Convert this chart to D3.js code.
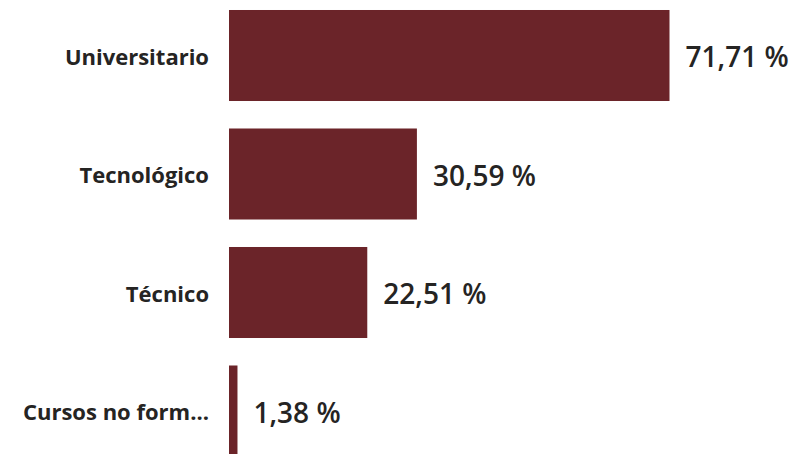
<!DOCTYPE html>
<html>
<head>
<meta charset="utf-8">
<script src="https://cdn.jsdelivr.net/npm/d3@7"></script>
<style>
  body { margin: 0; background: #fff; }
  svg { display: block; }
</style>
</head>
<body>
<div id="chart"></div>
<script>
// data
var categories = ["Universitario", "Tecnológico", "Técnico", "Cursos no formales"];
var values = [71.71, 30.59, 22.51, 1.38];

var width = 807,
    height = 454;

var svg = d3.select("#chart")
    .append("svg")
    .attr("width", width)
    .attr("height", height);

// x: value -> pixels, bars start at 229
var x = d3.scaleLinear()
    .domain([0, 71.71])
    .range([229, 669.5]);

// y: band per category, step ~118.5
var y = d3.scaleBand()
    .domain(categories)
    .range([-3.75, 470.25])
    .paddingInner(0.232)
    .paddingOuter(0.116);

var rows = categories.map(function(c, i) { return {cat: c, val: values[i]}; });

svg.selectAll("rect.bar")
    .data(rows)
    .enter()
    .append("rect")
    .attr("class", "bar")
    .attr("x", x(0))
    .attr("y", function(d) { return y(d.cat); })
    .attr("width", function(d) { return x(d.val) - x(0); })
    .attr("height", y.bandwidth())
    .style("fill", "#6b2429");

// category labels, cut with ellipsis if too long
var maxLabel = 192;
svg.selectAll("text.cat")
    .data(rows)
    .enter()
    .append("text")
    .attr("class", "cat")
    .attr("x", 209)
    .attr("y", function(d) { return y(d.cat) + y.bandwidth() / 2; })
    .attr("dy", "0.42em")
    .attr("text-anchor", "end")
    .style("font-family", "'Open Sans', sans-serif")
    .style("font-weight", 700)
    .style("font-size", "22px")
    .style("fill", "#252423")
    .text(function(d) { return d.cat; })
    .each(function(d) {
        var t = d3.select(this);
        var s = d.cat;
        if (this.getComputedTextLength() > maxLabel) {
            while (s.length > 0) {
                s = s.slice(0, -1);
                t.text(s + "...");
                if (this.getComputedTextLength() <= maxLabel) break;
            }
        }
    });

// value labels
var fmt = function(v) { return v.toFixed(2).replace(".", ",") + " %"; };
svg.selectAll("text.val")
    .data(rows)
    .enter()
    .append("text")
    .attr("class", "val")
    .attr("x", function(d) { return x(d.val) + 16; })
    .attr("y", function(d) { return y(d.cat) + y.bandwidth() / 2; })
    .attr("dy", "0.42em")
    .style("font-family", "'Open Sans', sans-serif")
    .style("font-weight", 600)
    .style("font-size", "28px")
    .style("fill", "#252423")
    .text(function(d) { return fmt(d.val); });
</script>
</body>
</html>
